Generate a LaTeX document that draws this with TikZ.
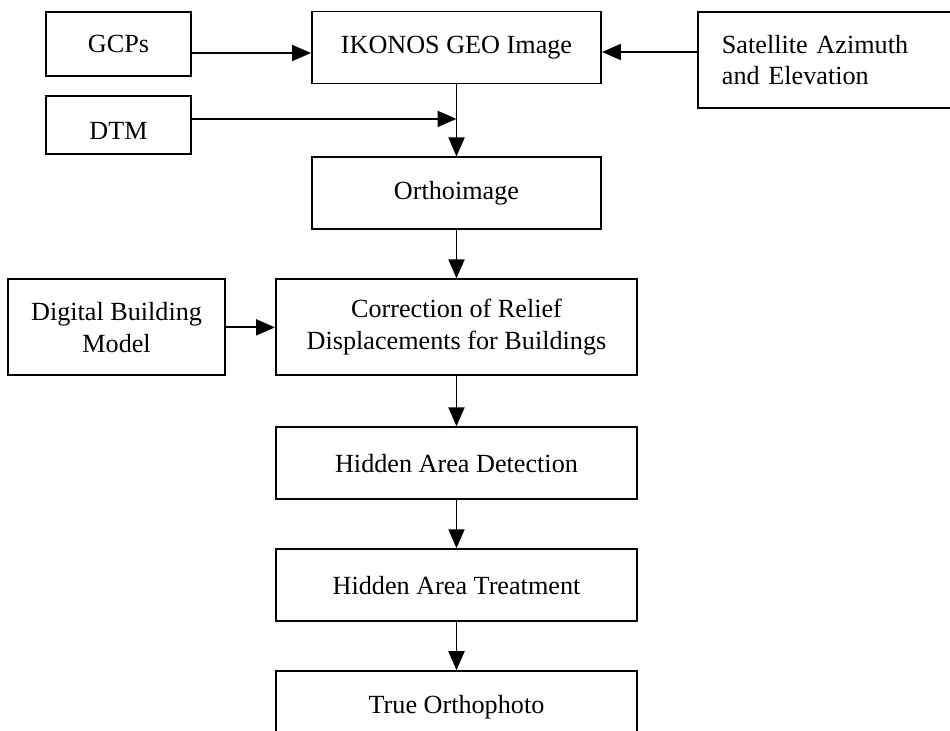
\documentclass[tikz,border=0pt]{standalone}
\usepackage{fontspec}
\setmainfont{Liberation Serif}
\usetikzlibrary{arrows.meta,positioning}

\begin{document}
\begin{tikzpicture}
[node distance = 0.96cm, auto, font=\fontsize{14.9}{18}\selectfont, line width=1.1pt,
>={Triangle[length=0.38cm,width=0.32cm]},
% STYLES
% The stage style is used for the boxes of the processing chain
stage/.style={rectangle, draw, minimum width=5.78cm, minimum height=1.44cm, align=center, inner sep=0pt},
% The wide style is used for the lower, wider boxes of the chain
wide/.style={stage, minimum width=7.22cm},
% The input style is used for the data fed into the chain
input/.style={rectangle, draw, minimum width=2.9cm, minimum height=1.28cm, align=center, inner sep=0pt}]

\useasboundingbox (-9.13,0.95) rectangle (9.87,-13.67);

% Draw the chain
\node [stage] (ikonos) {IKONOS GEO Image};
\node [stage, below=1.44cm of ikonos] (ortho) {Orthoimage};
\node [wide, minimum height=1.92cm, below=of ortho] (correction) {Correction of Relief\\Displacements for Buildings};
\node [wide, below=1cm of correction] (detection) {Hidden Area Detection};
\node [wide, below=of detection] (treatment) {Hidden Area Treatment};
\node [wide, below=of treatment] (trueortho) {True Orthophoto};

% Draw the inputs
\node [input, left=2.38cm of ikonos, yshift=0.07cm] (gcps) {GCPs};
\node [input, minimum height=1.16cm, text height=16.7pt, text depth=0pt, below=0.36cm of gcps] (dtm) {DTM};
\node [input, minimum width=5.06cm, minimum height=1.92cm, text width=4.1cm, align=left, right=1.9cm of ikonos, yshift=-0.25cm] (satellite) {Satellite Azimuth\\and Elevation};
\node [input, minimum width=4.34cm, minimum height=1.92cm, left=0.98cm of correction] (dbm) {Digital Building\\Model};

% Draw the links between the boxes
\path[->]
(ikonos) edge (ortho)
(ortho) edge (correction)
(dbm) edge (correction)
(correction) edge (detection)
(detection) edge (treatment)
(treatment) edge (trueortho);
\draw[->] ([yshift=-0.18cm]gcps.east) -- ([yshift=-0.11cm]ikonos.west);
\draw[->] ([yshift=0.16cm]satellite.west) -- ([yshift=-0.09cm]ikonos.east);
\draw[->] ([yshift=0.12cm]dtm.east) -- ([yshift=0.12cm]dtm.east -| ikonos.south);

\end{tikzpicture}
\end{document}
